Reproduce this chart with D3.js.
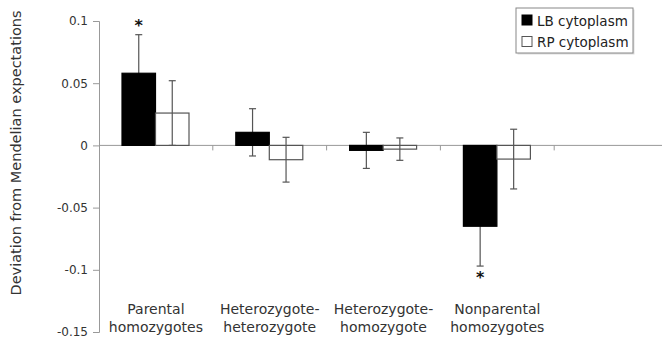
<!DOCTYPE html>
<html>
<head>
<meta charset="utf-8">
<script src="https://cdn.jsdelivr.net/npm/d3@7"></script>
<style>
  body { margin: 0; background: #fff; }
  svg { display: block; font-family: "DejaVu Sans", Verdana, sans-serif; }
</style>
</head>
<body>
<svg id="chart" width="662" height="341"></svg>
<script>
// categories (last band is empty, as in the original)
var categories = ["Parental\nhomozygotes", "Heterozygote-\nheterozygote", "Heterozygote-\nhomozygote", "Nonparental\nhomozygotes", ""];
var series = ["LB cytoplasm", "RP cytoplasm"];
var lbValues = [0.058, 0.0105, -0.004, -0.065];
var lbErrors = [0.031, 0.019, 0.0145, 0.032];
var rpValues = [0.026, -0.0115, -0.003, -0.011];
var rpErrors = [0.026, 0.018, 0.009, 0.024];
var lbStars = [true, false, false, true];
var yTicks = [0.1, 0.05, 0, -0.05, -0.1, -0.15];

var svg = d3.select("#chart");

var y = d3.scaleLinear().domain([-0.15, 0.1]).range([332, 21]);
var x0 = d3.scaleBand().domain(categories).range([99, 668]);
var x1 = d3.scaleBand().domain(series).range([23, 90]);

var fills = { "LB cytoplasm": "#000", "RP cytoplasm": "#fff" };
var strokes = { "LB cytoplasm": "#000", "RP cytoplasm": "#555" };

var rows = [];
for (var i = 0; i < lbValues.length; i++) {
  rows.push({ cat: categories[i], s: series[0], v: lbValues[i], e: lbErrors[i], star: lbStars[i] });
  rows.push({ cat: categories[i], s: series[1], v: rpValues[i], e: rpErrors[i], star: false });
}

// y axis
var yAxis = d3.axisLeft(y).tickValues(yTicks).tickSize(6).tickPadding(5)
  .tickFormat(function (d) { return d === 0 ? "0" : String(d); });
var ya = svg.append("g").attr("transform", "translate(99,0)").call(yAxis);
ya.select(".domain").attr("stroke", "#999");
ya.selectAll(".tick line").attr("stroke", "#999");
ya.selectAll(".tick text").attr("fill", "#333").style("font-size", "12px")
  .style("font-family", "DejaVu Sans, Verdana, sans-serif");

// zero line with category ticks
svg.append("line").attr("x1", 99).attr("x2", 662)
  .attr("y1", y(0)).attr("y2", y(0)).attr("stroke", "#999");
svg.selectAll(".ctick").data(categories.slice(1)).enter().append("line")
  .attr("x1", function (d) { return x0(d); }).attr("x2", function (d) { return x0(d); })
  .attr("y1", y(0)).attr("y2", y(0) + 5).attr("stroke", "#999");

function drawErrors(data) {
  var err = svg.selectAll(null).data(data).enter().append("g")
    .attr("transform", function (d) { return "translate(" + (x0(d.cat) + x1(d.s) + x1.bandwidth() / 2) + ",0)"; })
    .attr("stroke", "#555").attr("stroke-width", 1.2);
  err.append("line").attr("y1", function (d) { return y(d.v + d.e); })
    .attr("y2", function (d) { return y(d.v - d.e); });
  err.append("line").attr("x1", -3.5).attr("x2", 3.5)
    .attr("y1", function (d) { return y(d.v + d.e); }).attr("y2", function (d) { return y(d.v + d.e); });
  err.append("line").attr("x1", -3.5).attr("x2", 3.5)
    .attr("y1", function (d) { return y(d.v - d.e); }).attr("y2", function (d) { return y(d.v - d.e); });
}

// LB error bars sit behind the black bars
drawErrors(rows.filter(function (d) { return d.s === series[0]; }));

// bars
svg.selectAll(".bar").data(rows).enter().append("rect")
  .attr("x", function (d) { return x0(d.cat) + x1(d.s); })
  .attr("width", x1.bandwidth())
  .attr("y", function (d) { return y(Math.max(0, d.v)); })
  .attr("height", function (d) { return Math.abs(y(d.v) - y(0)); })
  .attr("fill", function (d) { return fills[d.s]; })
  .attr("stroke", function (d) { return strokes[d.s]; })
  .attr("stroke-width", 1.2);

drawErrors(rows.filter(function (d) { return d.s === series[1]; }));

// significance stars
svg.selectAll(".star").data(rows.filter(function (d) { return d.star; })).enter().append("text")
  .attr("x", function (d) { return x0(d.cat) + x1(d.s) + x1.bandwidth() / 2; })
  .attr("y", function (d) { return d.v > 0 ? y(d.v + d.e) - 4 : y(d.v - d.e) + 17; })
  .attr("text-anchor", "middle").style("font-size", "16px").style("font-weight", "bold")
  .attr("fill", "#111")
  .text("*");

// category labels
svg.selectAll(".clab").data(categories.filter(function (c) { return c; })).enter().append("text")
  .attr("x", function (d) { return x0(d) + x0.bandwidth() / 2; })
  .attr("text-anchor", "middle").style("font-size", "14px").attr("fill", "#333")
  .each(function (d) {
    var t = d3.select(this);
    d.split("\n").forEach(function (line, k) {
      t.append("tspan").attr("x", x0(d) + x0.bandwidth() / 2).attr("y", 314 + k * 18).text(line);
    });
  });

// y title
svg.append("text").attr("transform", "translate(21,153) rotate(-90)")
  .attr("text-anchor", "middle").style("font-size", "14.5px").attr("fill", "#333")
  .text("Deviation from Mendelian expectations");

// legend
var lg = svg.append("g").attr("transform", "translate(516,8)");
lg.append("rect").attr("x", 1.5).attr("y", 1.5).attr("width", 117).attr("height", 45)
  .attr("fill", "#ddd");
lg.append("rect").attr("width", 117).attr("height", 45)
  .attr("fill", "#fff").attr("stroke", "#888");
var li = lg.selectAll(".li").data(series).enter().append("g")
  .attr("transform", function (d, i) { return "translate(6," + (7 + i * 21.5) + ")"; });
li.append("rect").attr("width", 10).attr("height", 10)
  .attr("fill", function (d) { return fills[d]; })
  .attr("stroke", function (d) { return strokes[d]; });
li.append("text").attr("x", 15).attr("y", 10.5).style("font-size", "13.5px").attr("fill", "#222")
  .text(function (d) { return d; });
</script>
</body>
</html>
